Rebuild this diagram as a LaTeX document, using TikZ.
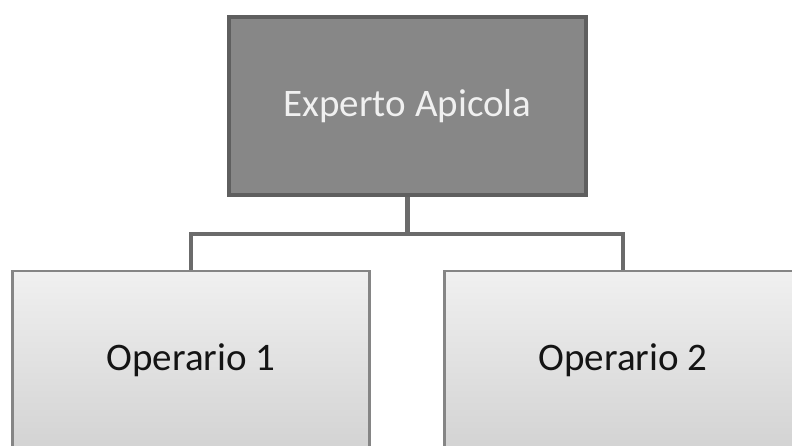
\documentclass[tikz,border=0pt]{standalone}
\usepackage{fontspec}
\setmainfont{Carlito}
\usetikzlibrary{positioning,shadows}

\definecolor{bossfill}{HTML}{878787}
\definecolor{bossdraw}{HTML}{5F5F5F}
\definecolor{worktop}{HTML}{F0F0F0}
\definecolor{workbot}{HTML}{D3D3D3}
\definecolor{workdraw}{HTML}{858585}
\definecolor{linkgray}{HTML}{6B6B6B}

\begin{document}
\begin{tikzpicture}[
    x=1pt, y=1pt,
    font=\fontsize{39}{46}\selectfont,
    box/.style={
        rectangle,
        align=center,
        minimum width=357pt,
        minimum height=178pt,
        inner sep=0pt
    },
    boss/.style={
        box,
        draw=bossdraw,
        fill=bossfill,
        line width=4.5pt,
        text=white!94!black
    },
    worker/.style={
        box,
        draw=workdraw,
        top color=worktop,
        bottom color=workbot,
        line width=2.4pt,
        text=black!92,
        drop shadow={shadow xshift=0pt, shadow yshift=0pt, opacity=0.12}
    },
    link/.style={
        draw=linkgray,
        line width=4.2pt
    }
]

\useasboundingbox (0,0) rectangle (792,-445);
\clip (0,0) rectangle (792,-445);

% Top: expert
\node[boss] (experto) at (407.5,-106) {Experto Apicola};

% Bottom: operators
\node[worker] (op1) at (191,-360) {Operario 1};
\node[worker] (op2) at (623,-360) {Operario 2};

% Connections
\draw[link] (experto.south) -- ++(0,-37) coordinate (junc);
\draw[link] (junc) -| (op1.north);
\draw[link] (junc) -| (op2.north);

\end{tikzpicture}
\end{document}
